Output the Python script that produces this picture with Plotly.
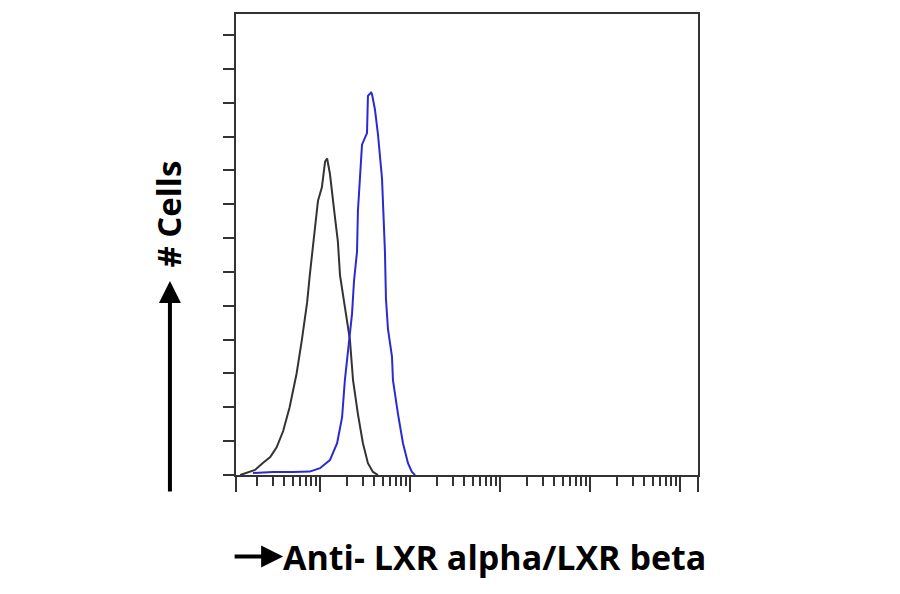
import plotly.graph_objects as go

# Fluorescence intensity (log scale) and cell counts
control_x = [1.3, 1.9, 2.3, 2.8, 3.3, 3.9, 4.6, 5.5, 6.3, 7.2, 7.7, 8.4, 8.8, 9.5,
             10.5, 11.4, 12.0, 12.9, 14.7, 15.8, 16.7, 18.9, 21.5, 23.3, 26.4,
             30.0, 34.1, 38.8, 44.0]
control_y = [0, 1.5, 3.5, 5.3, 8.2, 13, 20, 30, 40, 51, 59, 68, 74, 81,
             85, 92.6, 93.5, 89, 76, 69, 59, 49, 40, 28, 18,
             9.4, 3.5, 0.9, 0]

lxr_x = [1.8, 3.0, 5.0, 7.7, 10.0, 12.9, 15.5, 17.6, 18.9, 20.5, 22.7, 23.9, 25.8,
         26.4, 29.3, 33.3, 34.1, 36.9, 37.8, 40.8, 44.1, 48.9, 51.4, 52.7,
         54.1, 57.0, 63.1, 64.7, 73.6, 83.6, 95.0, 105, 114]
lxr_y = [0.6, 0.9, 0.9, 1.0, 2.0, 4.4, 9.4, 17, 28, 37.6, 47.6, 57.4, 66,
         78, 97.6, 101, 112, 113, 112.6, 108, 100.6, 87.6, 75, 66,
         52, 43, 35, 28, 18, 9.4, 3.5, 0.9, 0]

x_major_ticks = [10**0.067, 10, 100, 1000, 10000, 100000, 10**5.2]
x_minor_ticks = [m * 10**d for d in range(0, 5) for m in range(2, 10)]
y_ticks = list(range(0, 140, 10))

fig = go.Figure()
fig.add_trace(go.Scatter(x=control_x, y=control_y, mode="lines",
                         line=dict(color="#333333", width=2), showlegend=False))
fig.add_trace(go.Scatter(x=lxr_x, y=lxr_y, mode="lines",
                         line=dict(color="#2a2ad2", width=2), showlegend=False))

axis_color = "#333333"
fig.update_layout(
    width=900, height=594, autosize=False,
    margin=dict(l=228, r=210, t=4, b=127),
    plot_bgcolor="white", paper_bgcolor="white",
    xaxis=dict(type="log", range=[0.067, 5.2], showgrid=False, zeroline=False,
               showline=True, linecolor=axis_color, linewidth=2, mirror=True,
               tickmode="array", tickvals=x_major_ticks, ticktext=[""] * len(x_major_ticks),
               ticks="outside", ticklen=15, tickwidth=1.5, tickcolor=axis_color,
               minor=dict(tickmode="array", tickvals=x_minor_ticks, ticks="outside",
                          ticklen=9, tickwidth=1.5, tickcolor=axis_color),
               showticklabels=False),
    yaxis=dict(range=[0, 136.2], showgrid=False, zeroline=False,
               showline=True, linecolor=axis_color, linewidth=2, mirror=True,
               tickmode="array", tickvals=y_ticks, ticks="outside", ticklen=11,
               tickwidth=2, tickcolor=axis_color, showticklabels=False),
    font=dict(family="Open Sans, Liberation Sans, sans-serif", color="black"),
)

# y-axis label with arrow
fig.add_annotation(xref="paper", yref="paper", x=-0.143, y=0.421, ax=0, ay=212,
                   showarrow=True, arrowhead=2, arrowsize=1.1, arrowwidth=4,
                   arrowcolor="black", text="")
fig.add_annotation(xref="paper", yref="paper", x=-0.147, y=0.565, text="<b># Cells</b>",
                   textangle=-90, showarrow=False, font=dict(size=33, color="black"),
                   xanchor="center", yanchor="middle")

# x-axis label with arrow
fig.add_annotation(xref="paper", yref="paper", x=0.102, y=-0.177, ax=-50, ay=0,
                   showarrow=True, arrowhead=2, arrowsize=1.1, arrowwidth=4,
                   arrowcolor="black", text="")
fig.add_annotation(xref="paper", yref="paper", x=0.098, y=-0.177,
                   text="<b>Anti- LXR alpha/LXR beta</b>", showarrow=False,
                   xanchor="left", yanchor="middle", font=dict(size=34, color="black"))

fig.write_html("out.html")
